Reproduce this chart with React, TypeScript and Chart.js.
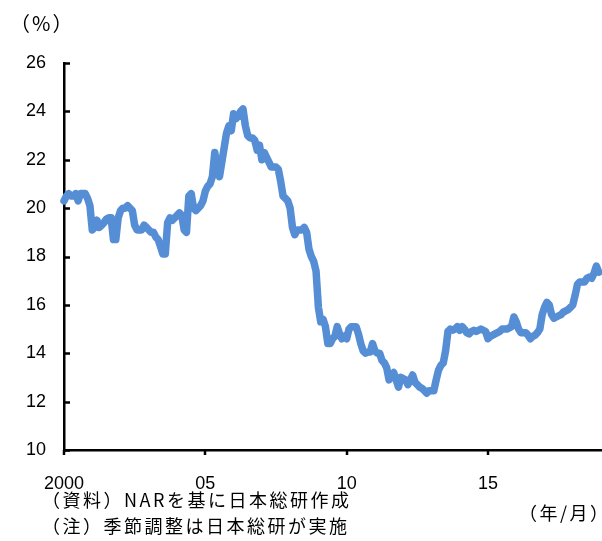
import { useEffect, useRef } from "react";
import { Chart, registerables } from "chart.js";

Chart.register(...registerables);

// Monthly share (%), January 2000 onward, seasonally adjusted
const y2000 = [20.3, 20.5, 20.6, 20.5, 20.5, 20.6, 20.3, 20.6, 20.6, 20.6, 20.4, 20.1];
const y2001 = [19.1, 19.2, 19.5, 19.2, 19.3, 19.4, 19.55, 19.6, 19.6, 18.7, 18.7, 19.6];
const y2002 = [19.9, 20.0, 20.0, 20.1, 20.0, 19.9, 19.3, 19.1, 19.1, 19.1, 19.3, 19.2];
const y2003 = [19.1, 19.0, 19.0, 18.8, 18.7, 18.4, 18.1, 18.1, 19.4, 19.6, 19.5, 19.6];
const y2004 = [19.7, 19.8, 19.7, 19.1, 19.0, 20.5, 20.6, 20.0, 19.9, 20.0, 20.1, 20.3];
const y2005 = [20.7, 20.9, 21.0, 21.3, 22.3, 21.7, 21.3, 21.9, 22.5, 23.1, 23.4, 23.2];
const y2006 = [23.9, 23.7, 23.8, 24.0, 24.1, 23.4, 23.0, 22.9, 22.9, 22.8, 22.4, 22.6];
const y2007 = [22.0, 22.3, 22.1, 21.9, 21.7, 21.7, 21.7, 21.6, 21.1, 20.5, 20.4, 20.3];
const y2008 = [20.0, 19.2, 18.9, 19.1, 19.1, 19.1, 19.2, 19.0, 18.3, 18.0, 17.8, 17.4];
const y2009 = [15.9, 15.3, 15.4, 15.1, 14.4, 14.4, 14.6, 14.7, 15.1, 14.8, 14.6, 14.7];
const y2010 = [14.6, 15.0, 15.1, 15.1, 15.1, 14.8, 14.4, 14.1, 14.0, 14.05, 14.05, 14.4];
const y2011 = [14.1, 14.0, 14.0, 13.7, 13.6, 13.4, 12.9, 13.1, 13.2, 12.9, 12.6, 13.0];
const y2012 = [12.95, 12.9, 12.7, 12.9, 13.1, 12.8, 12.7, 12.6, 12.55, 12.45, 12.35, 12.45];
const y2013 = [12.45, 12.45, 12.9, 13.3, 13.5, 13.6, 14.1, 14.9, 15.0, 14.95, 15.0, 15.1];
const y2014 = [14.95, 15.1, 15.0, 14.85, 14.8, 14.9, 14.95, 14.9, 14.95, 15.0, 14.95, 14.9];
const y2015 = [14.6, 14.7, 14.75, 14.8, 14.85, 14.9, 15.0, 15.0, 15.0, 15.05, 15.1, 15.5];
const y2016 = [15.3, 15.0, 14.85, 14.85, 14.85, 14.75, 14.6, 14.7, 14.75, 14.85, 15.0, 15.6];
const y2017 = [15.9, 16.1, 16.0, 15.6, 15.45, 15.5, 15.55, 15.6, 15.7, 15.75, 15.8, 15.9];
const y2018 = [16.0, 16.4, 16.85, 16.95, 16.95, 16.95, 17.1, 17.15, 17.1, 17.3, 17.6, 17.35];

const shareSeries = [
  ...y2000, ...y2001, ...y2002, ...y2003, ...y2004, ...y2005, ...y2006,
  ...y2007, ...y2008, ...y2009, ...y2010, ...y2011, ...y2012, ...y2013,
  ...y2014, ...y2015, ...y2016, ...y2017, ...y2018,
];

// Axis ticks: month index from Jan 2000 and their labels
const xTickMonths = [0, 60, 120, 180];
const xTickLabels = ["2000", "05", "10", "15"];
const yMin = 10;
const yMax = 26;
const yStep = 2;

const unitLabel = "（%）";
const periodLabel = "（年/月）";
const sourceNote = "（資料）NARを基に日本総研作成";
const methodNote = "（注）季節調整は日本総研が実施";

const LINE_COLOR = "#558ed5";
const JP_FONT = '"Noto Sans CJK JP", "Noto Sans", sans-serif';
const NUM_FONT = '"Liberation Sans", Arial, sans-serif';

const decorations = {
  id: "decorations",
  afterDraw(chart: any) {
    const { ctx, chartArea } = chart;
    const xs = chart.scales.x;
    const ys = chart.scales.y;
    ctx.save();
    ctx.strokeStyle = "#000";
    ctx.lineWidth = 2.5;
    ctx.beginPath();
    for (let v = yMin; v <= yMax; v += yStep) {
      const py = Math.round(ys.getPixelForValue(v)) + 0.5;
      ctx.moveTo(chartArea.left, py);
      ctx.lineTo(chartArea.left + 6, py);
    }
    for (const m of xTickMonths) {
      const px = Math.round(xs.getPixelForValue(m));
      ctx.moveTo(px, chartArea.bottom);
      ctx.lineTo(px, chartArea.bottom + 5);
    }
    ctx.stroke();

    ctx.fillStyle = "#000";
    ctx.textBaseline = "middle";
    ctx.textAlign = "left";
    ctx.font = `20px ${JP_FONT}`;
    (ctx as any).letterSpacing = "2px";
    ctx.fillText(unitLabel, 10, 23);
    ctx.font = `18px ${JP_FONT}`;
    (ctx as any).letterSpacing = "2.5px";
    ctx.fillText(sourceNote, 42, 500);
    ctx.fillText(methodNote, 42, 526);
    ctx.fillText(periodLabel, 519, 513);
    ctx.restore();
  },
};

export default function App() {
  const canvasRef = useRef<HTMLCanvasElement | null>(null);

  useEffect(() => {
    document.body.style.margin = "0";
    const canvas = canvasRef.current;
    if (!canvas) return;
    const chart = new Chart(canvas, {
      type: "line",
      data: {
        datasets: [
          {
            data: shareSeries.map((v, i) => ({ x: i, y: v })),
            borderColor: LINE_COLOR,
            backgroundColor: LINE_COLOR,
            borderWidth: 7.5,
            pointRadius: 0,
            tension: 0,
            borderJoinStyle: "round",
            borderCapStyle: "round",
            clip: false as any,
          },
        ],
      },
      options: {
        animation: false,
        responsive: false,
        events: [],
        layout: { padding: { top: 63, right: 0, bottom: 51, left: 0 } },
        plugins: {
          legend: { display: false },
          tooltip: { enabled: false },
        },
        scales: {
          x: {
            type: "linear",
            min: 0,
            max: 228.4,
            afterFit: (s: any) => {
              s.height = 40;
            },
            afterBuildTicks: (s: any) => {
              s.ticks = xTickMonths.map((value) => ({ value }));
            },
            grid: { display: false },
            border: { display: true, color: "#000", width: 2.5 },
            ticks: {
              color: "#000",
              font: { family: NUM_FONT, size: 18 },
              padding: 15,
              maxRotation: 0,
              autoSkip: false,
              callback: (v: any) => {
                const i = xTickMonths.indexOf(Number(v));
                return i >= 0 ? xTickLabels[i] : "";
              },
            },
          },
          y: {
            min: yMin,
            max: yMax,
            afterFit: (s: any) => {
              s.width = 64;
            },
            grid: { display: false },
            border: { display: true, color: "#000", width: 2.5 },
            ticks: {
              stepSize: yStep,
              color: "#000",
              font: { family: NUM_FONT, size: 18 },
              padding: 10,
            },
          },
        },
      },
      plugins: [decorations],
    });
    return () => chart.destroy();
  }, []);

  return (
    <div style={{ width: 602, height: 541, position: "relative", background: "#fff" }}>
      <canvas ref={canvasRef} width={602} height={541} />
    </div>
  );
}
